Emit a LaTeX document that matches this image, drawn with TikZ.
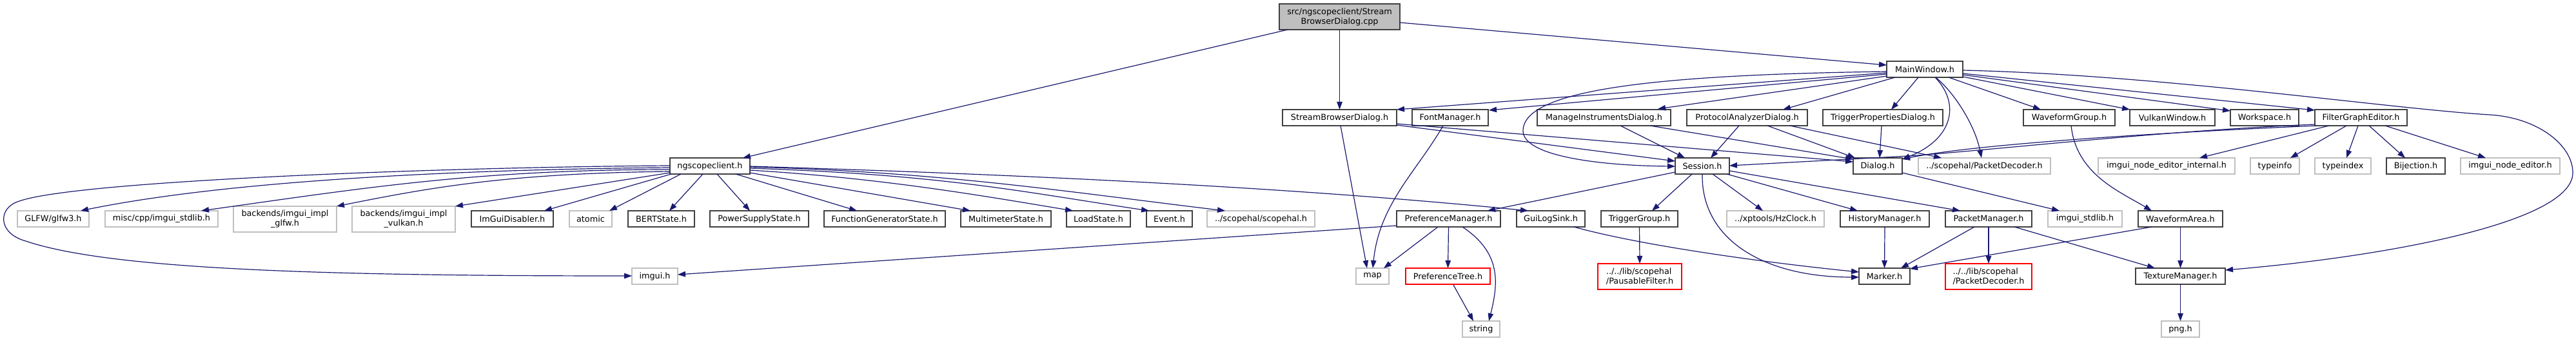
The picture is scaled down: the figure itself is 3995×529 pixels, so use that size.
\documentclass[tikz,border=0pt]{standalone}
\usepackage{fontspec}
\setmainfont{DejaVu Sans}
\usetikzlibrary{arrows.meta,calc}
\definecolor{edgec}{RGB}{25,25,112}
\definecolor{boxc}{RGB}{64,64,64}
\definecolor{grayc}{RGB}{191,191,191}
\definecolor{redc}{RGB}{255,0,0}
\newcommand{\dfont}{\fontsize{12.8pt}{15pt}\selectfont}
\tikzset{
  box/.style={draw=boxc, line width=1.4pt, fill=white, inner sep=1pt, outer sep=0pt,
    minimum height=25pt, anchor=north west, font=\dfont, align=center},
  gbox/.style={box, draw=grayc},
  rbox/.style={box, draw=redc, align=left},
  srcbox/.style={box, fill=grayc},
  e/.style={draw=edgec, line width=1.2pt, -{Triangle[length=12pt,width=8.5pt]}}
}
\begin{document}
\begin{tikzpicture}[x=1pt,y=-1pt]
\fill[white] (0,0) rectangle (3995,529);
\useasboundingbox (0,0) rectangle (3995,529);
% row 0
\node[srcbox, minimum width=187pt, minimum height=40pt] (src) at (1984,6) {src/ngscopeclient/Stream\\BrowserDialog.cpp};
% row 1
\node[box, minimum width=118pt] (main) at (2926,95) {MainWindow.h};
% row 2
\node[box, minimum width=177pt] (sbd) at (1989,170) {StreamBrowserDialog.h};
\node[box, minimum width=118pt] (font) at (2190,170) {FontManager.h};
\node[box, minimum width=207pt] (mid) at (2384,170) {ManageInstrumentsDialog.h};
\node[box, minimum width=187pt] (pad) at (2616,170) {ProtocolAnalyzerDialog.h};
\node[box, minimum width=186pt] (tpd) at (2827,170) {TriggerPropertiesDialog.h};
\node[box, minimum width=142pt] (wfg) at (3138,170) {WaveformGroup.h};
\node[box, minimum width=132pt] (vulkan) at (3303,170) {VulkanWindow.h};
\node[box, minimum width=106pt] (ws) at (3459,170) {Workspace.h};
\node[box, minimum width=143pt] (fge) at (3590,170) {FilterGraphEditor.h};
% row 3
\node[box, minimum width=124pt] (ngs) at (1039,245) {ngscopeclient.h};
\node[box, minimum width=84pt] (session) at (2598,245) {Session.h};
\node[box, minimum width=76pt] (dialog) at (2874,245) {Dialog.h};
\node[gbox, minimum width=205pt] (spd) at (2975,245) {../scopehal/PacketDecoder.h};
\node[gbox, minimum width=212pt] (inei) at (3254,245) {imgui\_node\_editor\_internal.h};
\node[gbox, minimum width=76pt] (tinfo) at (3490,245) {typeinfo};
\node[gbox, minimum width=87pt] (tindex) at (3590,245) {typeindex};
\node[box, minimum width=91pt] (bij) at (3701,245) {Bijection.h};
\node[gbox, minimum width=154pt] (ine) at (3816,245) {imgui\_node\_editor.h};
% row 4
\node[gbox, minimum width=111pt] (glfw) at (27,327) {GLFW/glfw3.h};
\node[gbox, minimum width=175pt] (misc) at (163,327) {misc/cpp/imgui\_stdlib.h};
\node[gbox, minimum width=160pt, minimum height=40pt] (bglfw) at (362,320) {backends/imgui\_impl\\\_glfw.h};
\node[gbox, minimum width=160pt, minimum height=40pt] (bvulkan) at (546,320) {backends/imgui\_impl\\\_vulkan.h};
\node[box, minimum width=127pt] (imdis) at (731,327) {ImGuiDisabler.h};
\node[gbox, minimum width=66pt] (atomic) at (883,327) {atomic};
\node[box, minimum width=103pt] (bert) at (974,327) {BERTState.h};
\node[box, minimum width=153pt] (pss) at (1101,327) {PowerSupplyState.h};
\node[box, minimum width=188pt] (fgs) at (1278,327) {FunctionGeneratorState.h};
\node[box, minimum width=140pt] (mms) at (1490,327) {MultimeterState.h};
\node[box, minimum width=99pt] (load) at (1654,327) {LoadState.h};
\node[box, minimum width=71pt] (event) at (1778,327) {Event.h};
\node[gbox, minimum width=167pt] (scopehal) at (1872,327) {../scopehal/scopehal.h};
\node[box, minimum width=161pt] (pm) at (2166,327) {PreferenceManager.h};
\node[box, minimum width=106pt] (gls) at (2352,327) {GuiLogSink.h};
\node[box, minimum width=119pt] (tg) at (2483,327) {TriggerGroup.h};
\node[gbox, minimum width=151pt] (hz) at (2678,327) {../xptools/HzClock.h};
\node[box, minimum width=138pt] (hm) at (2854,327) {HistoryManager.h};
\node[box, minimum width=134pt] (pkm) at (3017,327) {PacketManager.h};
\node[gbox, minimum width=115pt] (istd) at (3176,327) {imgui\_stdlib.h};
\node[box, minimum width=131pt] (wfa) at (3316,327) {WaveformArea.h};
% row 5
\node[gbox, minimum width=71pt] (imgui) at (980,416) {imgui.h};
\node[gbox, minimum width=51pt] (map) at (2103,416) {map};
\node[rbox, minimum width=131pt, align=center] (ptree) at (2180,416) {PreferenceTree.h};
\node[rbox, minimum width=130pt, minimum height=40pt] (pf) at (2478,409) {../../lib/scopehal\\/PausableFilter.h};
\node[box, minimum width=79pt] (marker) at (2883,416) {Marker.h};
\node[rbox, minimum width=134pt, minimum height=40pt] (lpd) at (3017,409) {../../lib/scopehal\\/PacketDecoder.h};
\node[box, minimum width=139pt] (tm) at (3312,416) {TextureManager.h};
% row 6
\node[gbox, minimum width=58pt] (string) at (2268,498) {string};
\node[gbox, minimum width=59pt] (png) at (3352,498) {png.h};

% ---- edges from source
\draw[e] ([shift={(13,40)}]src.north west) -- ([shift={(113,0)}]ngs.north west);
\draw[e] (src.south) -- (sbd.north);
\draw[e] ([shift={(187,29)}]src.north west) -- ([shift={(0,6)}]main.north west);

% ---- ngscopeclient.h
\draw[e] ([shift={(0,12)}]ngs.north west) .. controls (700,259) and (120,280) .. (30,312)
   .. controls (-4,322) and (-4,362) .. (40,374) .. controls (170,418) and (500,428) .. ([shift={(0,12)}]imgui.north west);
\draw[e] ([shift={(0,15)}]ngs.north west) .. controls +(-350,3) and +(220,-45) .. ([shift={(98,0)}]glfw.north west);
\draw[e] ([shift={(0,18)}]ngs.north west) .. controls +(-300,0) and +(250,-35) .. ([shift={(149,0)}]misc.north west);
\draw[e] ([shift={(0,21)}]ngs.north west) .. controls +(-250,3) and +(150,-30) .. ([shift={(160,0)}]bglfw.north west);
\draw[e] ([shift={(0,23)}]ngs.north west) -- ([shift={(160,0)}]bvulkan.north west);
\draw[e] ([shift={(2,25)}]ngs.north west) -- ([shift={(113,0)}]imdis.north west);
\draw[e] ([shift={(17,25)}]ngs.north west) -- ([shift={(62,0)}]atomic.north west);
\draw[e] ([shift={(51,25)}]ngs.north west) -- ([shift={(64,0)}]bert.north west);
\draw[e] ([shift={(73,25)}]ngs.north west) -- ([shift={(62,0)}]pss.north west);
\draw[e] ([shift={(102,25)}]ngs.north west) -- ([shift={(51,0)}]fgs.north west);
\draw[e] ([shift={(124,23)}]ngs.north west) -- ([shift={(15,0)}]mms.north west);
\draw[e] ([shift={(124,19)}]ngs.north west) .. controls +(200,12) and +(-150,-25) .. ([shift={(10,0)}]load.north west);
\draw[e] ([shift={(124,16)}]ngs.north west) .. controls +(300,10) and +(-200,-30) .. ([shift={(4,0)}]event.north west);
\draw[e] ([shift={(124,14)}]ngs.north west) .. controls +(300,8) and +(-250,-30) .. ([shift={(28,0)}]scopehal.north west);
\draw[e] ([shift={(124,13)}]ngs.north west) .. controls +(600,18) and +(-250,-25) .. ([shift={(18,0)}]gls.north west);

% ---- MainWindow.h
\draw[e] ([shift={(0,18)}]main.north west) -- ([shift={(177,0)}]sbd.north west);
\draw[e] ([shift={(0,20)}]main.north west) -- ([shift={(119,1)}]font.north west);
\draw[e] ([shift={(0,23)}]main.north west) -- ([shift={(187,-1)}]mid.north west);
\draw[e] ([shift={(0,16)}]main.north west) .. controls (2560,116) and (2362,140) .. (2362,203)
   .. controls (2362,242) and (2480,257) .. ([shift={(0,13)}]session.north west);
\draw[e] ([shift={(13,25)}]main.north west) -- ([shift={(149,0)}]pad.north west);
\draw[e] ([shift={(49,25)}]main.north west) -- ([shift={(106,0)}]tpd.north west);
\draw[e] ([shift={(75,25)}]main.north west) .. controls +(39,40) and +(80,-32) .. ([shift={(76,2)}]dialog.north west);
\draw[e] ([shift={(76,25)}]main.north west) .. controls +(30,25) and +(-10,-50) .. ([shift={(98,0)}]spd.north west);
\draw[e] ([shift={(96,25)}]main.north west) -- ([shift={(27,0)}]wfg.north west);
\draw[e] ([shift={(118,24)}]main.north west) -- ([shift={(0,0)}]vulkan.north west);
\draw[e] ([shift={(118,21)}]main.north west) -- ([shift={(0,2)}]ws.north west);
\draw[e] ([shift={(118,19)}]main.north west) -- ([shift={(0,1)}]fge.north west);
\draw[e] ([shift={(118,14)}]main.north west) .. controls (3350,116) and (3700,168) .. (3860,178)
   .. controls (3935,182) and (3990,225) .. (3990,268) .. controls (3990,345) and (3700,398) .. ([shift={(139,3)}]tm.north west);

% ---- StreamBrowserDialog.h, FontManager.h
\draw[e] ([shift={(90,25)}]sbd.north west) -- ([shift={(17,0)}]map.north west);
\draw[e] ([shift={(177,24)}]sbd.north west) -- ([shift={(0,5)}]session.north west);
\draw[e] ([shift={(177,22)}]sbd.north west) -- ([shift={(0,6)}]dialog.north west);
\draw[e] ([shift={(48,25)}]font.north west) .. controls +(-40,70) and +(10,-100) .. ([shift={(26,0)}]map.north west);

% ---- dialogs
\draw[e] ([shift={(129,25)}]mid.north west) -- ([shift={(15,0)}]session.north west);
\draw[e] ([shift={(175,25)}]mid.north west) -- ([shift={(0,2)}]dialog.north west);
\draw[e] ([shift={(81,25)}]pad.north west) -- ([shift={(55,0)}]session.north west);
\draw[e] ([shift={(125,25)}]pad.north west) -- ([shift={(3,0)}]dialog.north west);
\draw[e] ([shift={(160,25)}]pad.north west) -- ([shift={(36,0)}]spd.north west);
\draw[e] ([shift={(91,25)}]tpd.north west) -- ([shift={(41,0)}]dialog.north west);
\draw[e] ([shift={(74,25)}]wfg.north west) .. controls +(8,75) and +(-50,-30) .. ([shift={(21,0)}]wfa.north west);

% ---- FilterGraphEditor.h
\draw[e] ([shift={(2,25)}]fge.north west) .. controls (3300,208) and (3050,226) .. ([shift={(76,2)}]dialog.north west);
\draw[e] ([shift={(0,23)}]fge.north west) .. controls (3350,203) and (3100,232) .. (2960,242) -- ([shift={(84,12)}]session.north west);
\draw[e] ([shift={(22,25)}]fge.north west) -- ([shift={(157,0)}]inei.north west);
\draw[e] ([shift={(49,25)}]fge.north west) -- ([shift={(62,0)}]tinfo.north west);
\draw[e] ([shift={(67,25)}]fge.north west) -- ([shift={(49,0)}]tindex.north west);
\draw[e] ([shift={(84,25)}]fge.north west) -- ([shift={(29,0)}]bij.north west);
\draw[e] ([shift={(109,25)}]fge.north west) -- ([shift={(39,0)}]ine.north west);

% ---- Session.h, Dialog.h
\draw[e] ([shift={(0,22)}]session.north west) -- ([shift={(141,0)}]pm.north west);
\draw[e] ([shift={(26,25)}]session.north west) -- ([shift={(79,0)}]tg.north west);
\draw[e] ([shift={(42,25)}]session.north west) .. controls +(-2,100) and +(-150,0) .. ([shift={(0,14)}]marker.north west);
\draw[e] ([shift={(58,25)}]session.north west) -- ([shift={(56,0)}]hz.north west);
\draw[e] ([shift={(80,25)}]session.north west) -- ([shift={(27,0)}]hm.north west);
\draw[e] ([shift={(84,20)}]session.north west) -- ([shift={(23,0)}]pkm.north west);
\draw[e] ([shift={(76,23)}]dialog.north west) -- ([shift={(18,0)}]istd.north west);

% ---- lower rows
\draw[e] ([shift={(64,25)}]pm.north west) -- ([shift={(43,0)}]map.north west);
\draw[e] (pm.south) -- (ptree.north);
\draw[e] ([shift={(102,25)}]pm.north west) .. controls +(60,40) and +(15,-60) .. ([shift={(41,0)}]string.north west);
\draw[e] ([shift={(0,23)}]pm.north west) -- ([shift={(71,10)}]imgui.north west);
\draw[e] ([shift={(74,26)}]ptree.north west) -- ([shift={(17,0)}]string.north west);
\draw[e] ([shift={(89,25)}]gls.north west) .. controls +(100,28) and +(-150,-15) .. ([shift={(0,6)}]marker.north west);
\draw[e] (tg.south) -- (pf.north);
\draw[e] (hm.south) -- (marker.north);
\draw[e] ([shift={(45,25)}]pkm.north west) -- ([shift={(65,0)}]marker.north west);
\draw[e] (pkm.south) -- (lpd.north);
\draw[e] ([shift={(107,25)}]pkm.north west) -- ([shift={(30,0)}]tm.north west);
\draw[e] ([shift={(21,25)}]wfa.north west) -- ([shift={(79,1)}]marker.north west);
\draw[e] (wfa.south) -- (tm.north);
\draw[e] (tm.south) -- (png.north);
\end{tikzpicture}
\end{document}
